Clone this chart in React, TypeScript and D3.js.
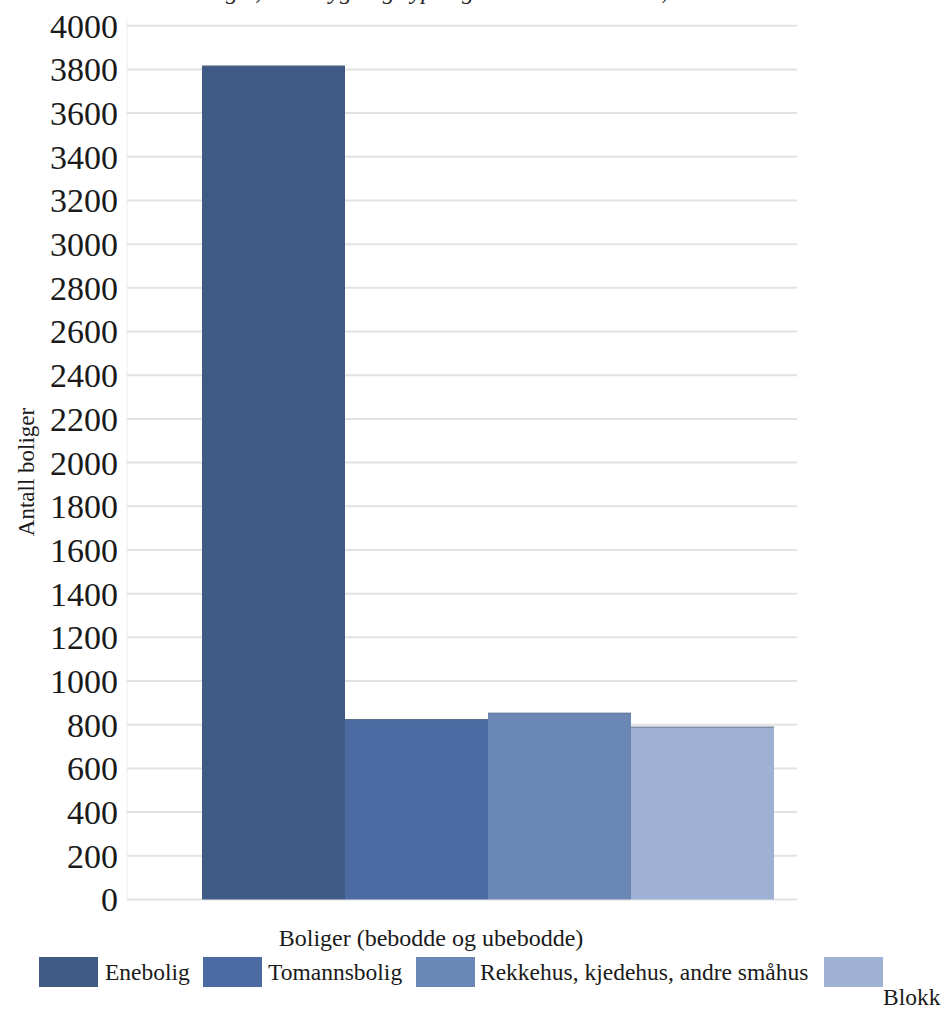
import React from "react";
import * as d3 from "d3";

// Dwellings by building type (one category, four series)
const categories = ["Boliger (bebodde og ubebodde)"];
const seriesNames = ["Enebolig", "Tomannsbolig", "Rekkehus, kjedehus, andre småhus", "Blokk"];
const seriesValues = [3817, 826, 855, 791];
const seriesColors = ["#405a86", "#4d6ba3", "#6b87b6", "#9eb1d5"];
const yTickValues = [0, 200, 400, 600, 800, 1000, 1200, 1400, 1600, 1800, 2000, 2200, 2400, 2600, 2800, 3000, 3200, 3400, 3600, 3800, 4000];
const titleText = "Boliger, etter bygningstype og bebodde/ubebodde, 2011";
const yAxisTitle = "Antall boliger";

const W = 941;
const H = 1012;
const serif = "'Liberation Serif', 'Times New Roman', serif";

export default function App() {
  const y = d3.scaleLinear().domain([0, 4000]).range([899.5, 25.7]);
  const x0 = d3.scaleBand<string>().domain(categories).range([202, 774]);
  const x1 = d3.scaleBand<string>().domain(seriesNames).range([0, x0.bandwidth()]);
  const gridX1 = 127;
  const gridX2 = 797;

  const legendX = [39, 203, 416, 824];
  const legendTextX = [105, 268, 480, 883];
  const legendTextY = [980, 980, 980, 1005];

  return (
    <svg
      width={W}
      height={H}
      style={{ position: "absolute", left: 0, top: 0, display: "block", background: "#fff" }}
      fontFamily={serif}
    >
      {/* title, mostly above the visible area */}
      <text x={186} y={-1} fontSize={24} fontStyle="italic" fill="#222">
        {titleText}
      </text>

      {/* faint vertical axis */}
      <line x1={gridX1} x2={gridX1} y1={y(4000) - 8} y2={y(0)} stroke="#eeeeee" strokeWidth={1} />

      {/* gridlines */}
      {yTickValues.map((t) => (
        <line
          key={"g" + t}
          x1={gridX1}
          x2={gridX2}
          y1={y(t)}
          y2={y(t)}
          stroke="#e2e2e2"
          strokeWidth={2}
        />
      ))}

      {/* tick labels */}
      {yTickValues.map((t) => (
        <text
          key={"t" + t}
          x={118}
          y={y(t)}
          dy="0.35em"
          textAnchor="end"
          fontSize={34}
          fill="#1a1a1a"
        >
          {t}
        </text>
      ))}

      {/* bars */}
      {categories.map((c) => (
        <g key={c} transform={`translate(${x0(c)},0)`}>
          {seriesNames.map((s, i) => {
            const bx = x1(s) as number;
            const top = y(seriesValues[i]);
            return (
              <g key={s}>
                <rect
                  x={bx}
                  y={top}
                  width={x1.bandwidth()}
                  height={y(0) - top}
                  fill={seriesColors[i]}
                />
                <line
                  x1={bx}
                  x2={bx + x1.bandwidth()}
                  y1={top + 0.5}
                  y2={top + 0.5}
                  stroke="#5e6b78"
                  strokeOpacity={0.6}
                  strokeWidth={1.2}
                />
              </g>
            );
          })}
        </g>
      ))}

      {/* y axis title */}
      <text
        transform={`translate(34,472) rotate(-90)`}
        textAnchor="middle"
        fontSize={23}
        fill="#1a1a1a"
      >
        {yAxisTitle}
      </text>

      {/* category label */}
      {categories.map((c) => (
        <text key={"c" + c} x={431} y={946} textAnchor="middle" fontSize={24} fill="#1a1a1a">
          {c}
        </text>
      ))}

      {/* legend */}
      {seriesNames.map((s, i) => (
        <g key={"l" + s}>
          <rect x={legendX[i]} y={957} width={59} height={30} fill={seriesColors[i]} />
          <text x={legendTextX[i]} y={legendTextY[i]} fontSize={23.5} fill="#1a1a1a">
            {s}
          </text>
        </g>
      ))}
    </svg>
  );
}
